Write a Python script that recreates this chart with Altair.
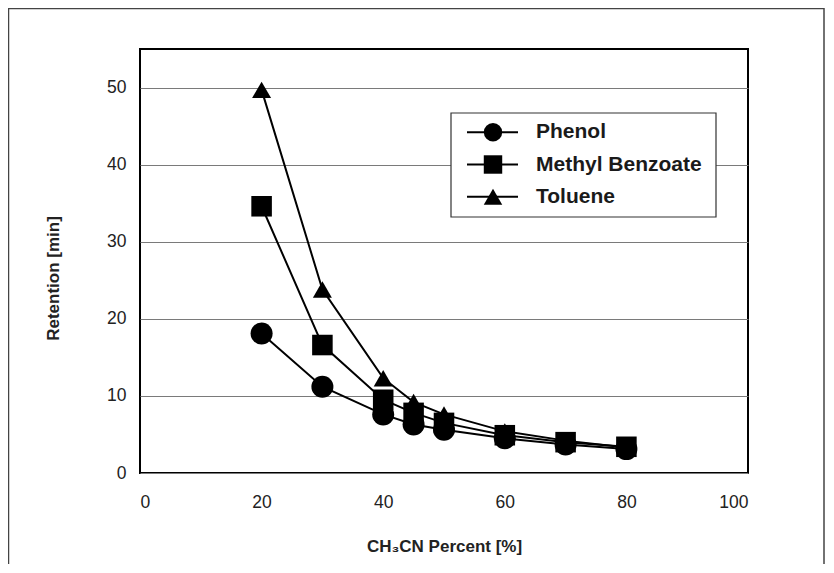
import altair as alt
import pandas as pd

# retention times [min]
pct = [20, 30, 40, 45, 50, 60, 70, 80]
phenol = [18.1, 11.2, 7.6, 6.3, 5.6, 4.5, 3.7, 3.1]
methyl_benzoate = [34.6, 16.6, 9.5, 7.8, 6.5, 4.9, 4.0, 3.4]
toluene = [49.7, 23.8, 12.3, 9.2, 7.6, 5.4, 4.2, 3.3]

series = ["Phenol", "Methyl Benzoate", "Toluene"]
shapes = ["circle", "square", "triangle-up"]
marker_sizes = [484, 361, 440]

x_ticks = [0, 20, 40, 60, 80, 100]
y_ticks = [0, 10, 20, 30, 40, 50]

FONT = "Liberation Sans"

df = pd.concat(
    [
        pd.DataFrame({"series": name, "pct": pct, "rt": vals})
        for name, vals in zip(series, [phenol, methyl_benzoate, toluene])
    ],
    ignore_index=True,
)
legend_df = pd.DataFrame({"series": series})
one_row = pd.DataFrame({"k": [0]})

x_enc = alt.X(
    "pct:Q",
    scale=alt.Scale(domain=[0, 100], nice=False),
    axis=alt.Axis(
        values=x_ticks, title="CH₃CN Percent [%]", grid=False, ticks=False,
        domain=False, labelPadding=20, titleX=304, titleY=73,
        titleBaseline="middle", titleAlign="center",
    ),
)
y_enc = alt.Y(
    "rt:Q",
    scale=alt.Scale(domain=[0, 55], nice=False),
    axis=alt.Axis(
        values=y_ticks, title="Retention [min]", grid=True, gridColor="#7a7a7a",
        gridWidth=1, ticks=False, domain=False, labelPadding=14,
        titleAngle=270, titleX=-87, titleY=229, titleAlign="center",
        titleBaseline="middle",
    ),
)
shape_scale = alt.Scale(domain=series, range=shapes)

lines = alt.Chart(df).mark_line(color="black", strokeWidth=2).encode(
    x=x_enc, y=y_enc, detail="series:N", order="pct:Q"
)
points = alt.Chart(df).mark_point(filled=True, opacity=1, color="black").encode(
    x=x_enc,
    y=y_enc,
    shape=alt.Shape("series:N", scale=shape_scale, legend=None),
    size=alt.Size("series:N", scale=alt.Scale(domain=series, range=marker_sizes), legend=None),
)
data_layer = alt.layer(lines, points)

# hand-made legend box
ly = alt.Y("series:N", scale=alt.Scale(domain=series, range=[67, 164]), axis=None)
box = alt.Chart(one_row).mark_rect(fill="white", stroke="#333", strokeWidth=1.2).encode(
    x=alt.value(311), x2=alt.value(576), y=alt.value(64), y2=alt.value(168)
)
leg_rules = alt.Chart(legend_df).mark_rule(color="black", strokeWidth=2).encode(
    x=alt.value(327), x2=alt.value(378), y=ly
)
leg_syms = alt.Chart(legend_df).mark_point(filled=True, opacity=1, color="black", size=340).encode(
    x=alt.value(353), y=ly, shape=alt.Shape("series:N", scale=shape_scale, legend=None)
)
leg_text = alt.Chart(legend_df).mark_text(
    align="left", baseline="middle", font=FONT, fontSize=21, fontWeight="bold", color="#1a1a1a"
).encode(x=alt.value(396), y=ly, text="series:N")
legend_layer = alt.layer(box, leg_rules, leg_syms, leg_text)

# outer frame of the figure (bottom edge runs off the page)
frame = alt.Chart(one_row).mark_rect(fillOpacity=0, stroke="#444", strokeWidth=1.5).encode(
    x=alt.value(-131.5), x2=alt.value(684), y=alt.value(-40.5), y2=alt.value(600)
)

chart = (
    alt.layer(frame, data_layer, legend_layer)
    .resolve_scale(y="independent")
    .properties(
        width=608,
        height=424,
        autosize=alt.AutoSizeParams(type="none"),
        padding={"left": 132, "top": 41, "right": 78, "bottom": 91},
    )
    .configure_view(stroke="black", strokeWidth=2)
    .configure_axis(
        labelFont=FONT, labelFontSize=17.5, labelColor="#222",
        titleFont=FONT, titleFontSize=17, titleFontWeight="bold", titleColor="#222",
    )
)

chart.save("out.html", embed_options={"renderer": "svg", "actions": False})
